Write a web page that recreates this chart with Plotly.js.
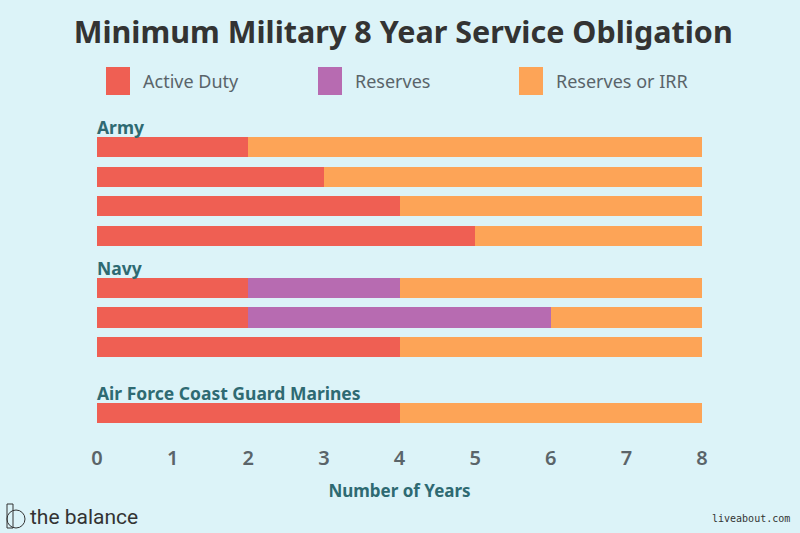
<!DOCTYPE html>
<html>
<head>
<meta charset="utf-8">
<script src="https://cdn.plot.ly/plotly-3.0.1.min.js"></script>
<style>
html,body{margin:0;padding:0;background:#dcf3f8;}
#chart{width:800px;height:533px;}
</style>
</head>
<body>
<div id="chart"></div>
<script>
// ---- data ----
const groups = ["Army", "Navy", "Air Force Coast Guard Marines"];
const rowGroup = ["Army", "Army", "Army", "Army", "Navy", "Navy", "Navy", "Air Force Coast Guard Marines"];
const activeDuty  = [2, 3, 4, 5, 2, 2, 4, 4];
const reserves    = [0, 0, 0, 0, 2, 4, 0, 0];
const reservesIRR = [6, 5, 4, 3, 4, 2, 4, 4];
const seriesNames = ["Active Duty", "Reserves", "Reserves or IRR"];
const xTicks = [0, 1, 2, 3, 4, 5, 6, 7, 8];

// ---- layout helpers (positions computed, not data) ----
const groupGap = {"Navy": 1.76, "Air Force Coast Guard Marines": 2.23};
const rowY = [];
let cur = 0;
rowGroup.forEach((g, i) => {
  if (i > 0) cur += (g !== rowGroup[i - 1]) ? groupGap[g] : 1;
  rowY.push(cur);
});

const colors = ["#ef5f53", "#b76bb1", "#fda457"];
const seriesVals = [activeDuty, reserves, reservesIRR];

const traces = seriesVals.map((vals, k) => ({
  type: "bar",
  orientation: "h",
  name: seriesNames[k],
  x: vals,
  y: rowY,
  width: 0.68,
  marker: {color: colors[k], line: {width: 0}},
  showlegend: false,
  hoverinfo: "x+name"
}));

const annotations = [];
groups.forEach(g => {
  const idx = rowGroup.indexOf(g);
  annotations.push({
    x: 0, xref: "x", xanchor: "left", xshift: -2,
    y: rowY[idx] - 0.68, yref: "y", yanchor: "middle",
    text: "<b>" + g + "</b>", showarrow: false,
    font: {family: "Noto Sans", size: 17.5, color: "#2e6a72"}
  });
});

// custom legend (swatches as shapes, labels as text)
const legendPos = [106, 318, 519]; // px of swatch left
const plotL = 97, plotW = 605, plotT = 110, plotH = 334;
const px2x = p => (p - plotL) / plotW;
const px2y = p => (plotT + plotH - p) / plotH;
const shapes = [];
seriesNames.forEach((n, k) => {
  shapes.push({
    type: "rect", xref: "paper", yref: "paper",
    x0: px2x(legendPos[k]), x1: px2x(legendPos[k] + 24),
    y0: px2y(95), y1: px2y(67),
    fillcolor: colors[k], line: {width: 0}
  });
  annotations.push({
    xref: "paper", yref: "paper", x: px2x(legendPos[k] + 35), xanchor: "left",
    y: px2y(81), yanchor: "middle", text: n, showarrow: false,
    font: {family: "Noto Sans", size: 18, color: "#59646a"}
  });
});

// branding
annotations.push({
  xref: "paper", yref: "paper", x: px2x(28), xanchor: "left",
  y: px2y(517), yanchor: "middle", text: "the balance", showarrow: false,
  font: {family: "Roboto", size: 21, color: "#333333"}
});
shapes.push({type: "rect", xref: "paper", yref: "paper",
  x0: px2x(7), x1: px2x(13), y0: px2y(528), y1: px2y(504),
  line: {color: "#333", width: 1}, fillcolor: "rgba(0,0,0,0)"});
shapes.push({type: "circle", xref: "paper", yref: "paper",
  x0: px2x(7), x1: px2x(25), y0: px2y(528), y1: px2y(510),
  line: {color: "#333", width: 1}, fillcolor: "rgba(0,0,0,0)"});
annotations.push({
  xref: "paper", yref: "paper", x: px2x(792), xanchor: "right",
  y: px2y(518), yanchor: "middle", text: "liveabout.com", showarrow: false,
  font: {family: "DejaVu Sans Mono", size: 10, color: "#333333"}
});

const layout = {
  width: 800, height: 533,
  paper_bgcolor: "#dcf3f8", plot_bgcolor: "#dcf3f8",
  barmode: "stack",
  bargap: 0,
  margin: {l: plotL, r: 800 - plotL - plotW, t: plotT, b: 533 - plotT - plotH, pad: 0},
  title: {
    text: "<b>Minimum Military 8 Year Service Obligation</b>",
    x: 0.504, xanchor: "center", y: 1 - 32 / 533, yanchor: "middle", yref: "container",
    font: {family: "Noto Sans", size: 30.5, color: "#333333"}
  },
  xaxis: {
    range: [0, 8], tickvals: xTicks, ticktext: xTicks.map(String),
    showgrid: false, zeroline: false, showline: false, ticks: "",
    tickfont: {family: "Noto Sans", size: 20, color: "#5a6469", weight: 600},
    title: {text: "<b>Number of Years</b>", standoff: 15,
      font: {family: "Noto Sans", size: 17, color: "#2e6a72"}},
    automargin: false, fixedrange: true
  },
  yaxis: {
    range: [(plotT + plotH - 147) / 29.6, (plotT - 147) / 29.6],
    showticklabels: false, showgrid: false, zeroline: false, showline: false, ticks: "",
    automargin: false, fixedrange: true
  },
  shapes: shapes,
  annotations: annotations,
  showlegend: false
};

Plotly.newPlot("chart", traces, layout, {displayModeBar: false, staticPlot: true});
</script>
</body>
</html>
